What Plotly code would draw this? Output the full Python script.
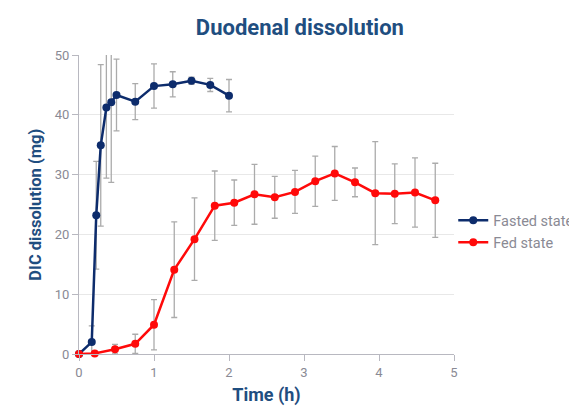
import plotly.graph_objects as go

# Fasted state
fasted_time = [0, 0.17, 0.23, 0.29, 0.365, 0.43, 0.50, 0.75, 1.0, 1.25, 1.5, 1.75, 2.0]
fasted_dic = [0, 2.0, 23.2, 34.9, 41.2, 42.1, 43.3, 42.2, 44.8, 45.1, 45.7, 45.0, 43.2]
fasted_err = [0, 2.7, 9.0, 13.5, 11.8, 13.4, 6.0, 3.0, 3.7, 2.1, 0.6, 1.1, 2.7]

# Fed state
fed_time = [0, 0.21, 0.48, 0.75, 1.0, 1.27, 1.54, 1.81, 2.07, 2.34, 2.61, 2.88,
            3.15, 3.41, 3.68, 3.95, 4.21, 4.48, 4.75]
fed_dic = [0, 0.1, 0.8, 1.7, 4.9, 14.1, 19.2, 24.8, 25.3, 26.7, 26.2, 27.1,
           28.9, 30.2, 28.7, 26.9, 26.8, 27.0, 25.7]
fed_err = [0, 0, 0.8, 1.6, 4.2, 8.0, 6.9, 5.8, 3.8, 5.0, 3.5, 3.6,
           4.2, 4.5, 2.4, 8.6, 5.0, 5.8, 6.2]

x_ticks = [0, 1, 2, 3, 4, 5]
y_ticks = [0, 10, 20, 30, 40, 50]

NAVY = "#0d2c6c"
RED = "#ff0a0a"
TITLE_BLUE = "#1f4e80"
GRAY_TXT = "#8a8a94"
FONT = "Roboto"

fig = go.Figure()
fig.add_trace(go.Scatter(
    x=fasted_time, y=fasted_dic, name="Fasted state", mode="lines+markers",
    line=dict(color=NAVY, width=2.5), marker=dict(color=NAVY, size=8),
    error_y=dict(type="data", array=fasted_err, visible=True,
                 color="#ababab", thickness=1.3, width=3),
    cliponaxis=False,
))
fig.add_trace(go.Scatter(
    x=fed_time, y=fed_dic, name="Fed state", mode="lines+markers",
    line=dict(color=RED, width=2.5), marker=dict(color=RED, size=8),
    error_y=dict(type="data", array=fed_err, visible=True,
                 color="#ababab", thickness=1.3, width=3),
    cliponaxis=False,
))

# page body adds an 8px offset, so the figure is 8px smaller
fig.update_layout(
    width=569, height=398,
    margin=dict(l=71, r=123, t=47, b=52, autoexpand=False),
    paper_bgcolor="white", plot_bgcolor="white",
    font=dict(family=FONT, color=GRAY_TXT, size=13),
    title=dict(text="<b>Duodenal dissolution</b>", x=0.513, xanchor="center",
               y=0.952, yanchor="middle",
               font=dict(family=FONT, size=22, color=TITLE_BLUE)),
    xaxis=dict(range=[0, 5], tickvals=x_ticks, showgrid=False, zeroline=False,
               showline=True, linecolor="#b8b8c0", linewidth=1, automargin=False,
               ticks="outside", ticklen=6, tickcolor="#b8b8c0",
               tickfont=dict(size=13, color=GRAY_TXT),
               title=dict(text="<b>Time (h)</b>", standoff=13,
                          font=dict(family=FONT, size=18, color=TITLE_BLUE))),
    yaxis=dict(range=[0, 50], tickvals=y_ticks, showgrid=True, gridcolor="#e8e8e8",
               zeroline=False, showline=True, linecolor="#b8b8c0", linewidth=1,
               automargin=False,
               ticks="outside", ticklen=6, tickcolor="#b8b8c0",
               tickfont=dict(size=13, color=GRAY_TXT)),
    legend=dict(x=0.998, y=0.41, xanchor="left", yanchor="middle",
                font=dict(size=14.5, color=GRAY_TXT), bgcolor="rgba(0,0,0,0)",
                itemwidth=30),
    annotations=[dict(text="<b>DIC dissolution (mg)</b>", textangle=-90,
                      xref="paper", yref="paper", x=-0.117, y=0.5,
                      xanchor="center", yanchor="middle", showarrow=False,
                      font=dict(family=FONT, size=16.5, color=TITLE_BLUE))],
)

fig.write_html("out.html")
